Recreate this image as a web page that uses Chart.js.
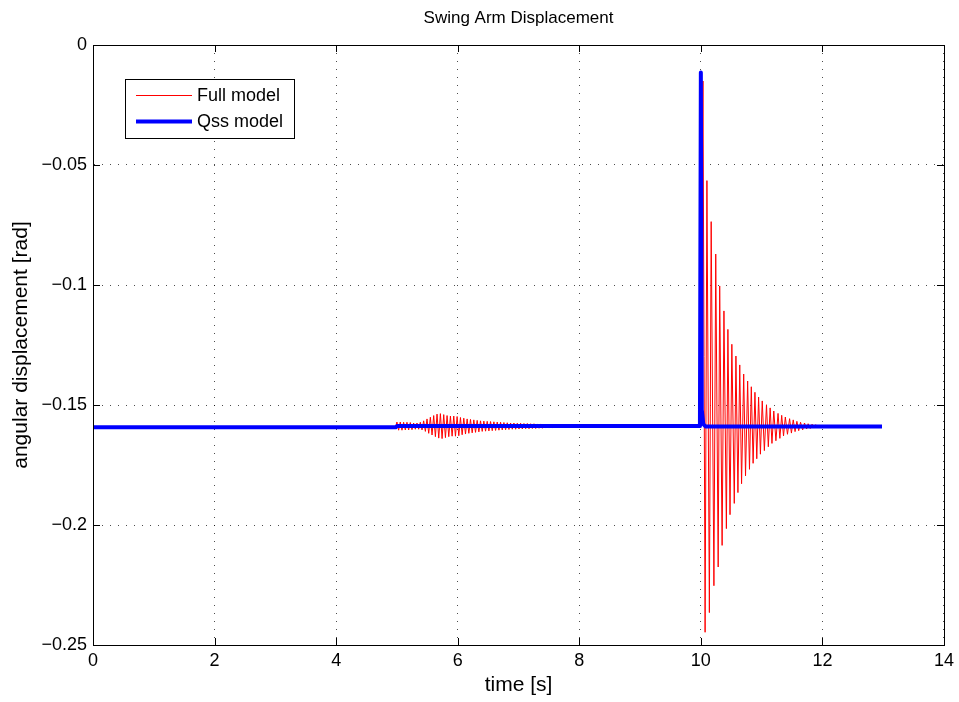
<!DOCTYPE html>
<html>
<head>
<meta charset="utf-8">
<title>Swing Arm Displacement</title>
<script src="https://cdn.jsdelivr.net/npm/chart.js@4/dist/chart.umd.min.js"></script>
<style>
  html, body { margin: 0; padding: 0; background: #fff; }
</style>
</head>
<body>
<canvas id="swingChart" width="959" height="702"></canvas>
<script>
// values (time in s, angle in rad)

// Full model: flat start, then the small oscillation after t = 5
const fullCalmTime = [
  0, 4.98,
  5.000, 5.028, 5.055, 5.083, 5.110, 5.138, 5.165, 5.193, 5.220, 5.248, 5.275, 5.303, 5.330, 5.358,
  5.385, 5.413, 5.440, 5.468, 5.495, 5.523, 5.550, 5.578, 5.605, 5.633, 5.660, 5.688, 5.715, 5.743,
  5.770, 5.798, 5.825, 5.853, 5.880, 5.908, 5.935, 5.963, 5.990, 6.018, 6.045, 6.073, 6.100, 6.128,
  6.155, 6.183, 6.210, 6.238, 6.265, 6.293, 6.320, 6.348, 6.375, 6.403, 6.430, 6.458, 6.485, 6.513,
  6.540, 6.568, 6.595, 6.623, 6.650, 6.678, 6.705, 6.733, 6.760, 6.788, 6.815, 6.843, 6.870, 6.898,
  6.925, 6.953, 6.980, 7.008, 7.035, 7.063, 7.090, 7.118, 7.145, 7.173, 7.200, 7.228, 7.255, 7.283,
  7.310, 7.338, 7.365, 7.393, 7.420, 7.448, 7.475, 7.503, 7.530, 7.558, 7.585, 7.613, 7.640, 7.668,
  7.695, 7.723, 7.750, 7.778, 7.805, 7.833, 7.860, 7.888, 7.915, 7.943, 7.970, 7.998, 8.025, 8.053,
  8.080, 8.108, 8.135, 8.163, 8.190, 8.218, 8.245, 8.273, 8.300, 8.328, 8.355, 8.383, 8.410, 8.438,
  8.465, 8.493, 8.520, 8.548,
  8.58, 9.99
];
const fullCalmAngle = [
  -0.1592, -0.1592,
  -0.1571, -0.1605, -0.1571, -0.1605, -0.1572, -0.1604, -0.1572, -0.1604, -0.1573, -0.1603, -0.1575, -0.1601, -0.1575, -0.1601,
  -0.1572, -0.1604, -0.1566, -0.1610, -0.1558, -0.1618, -0.1551, -0.1625, -0.1544, -0.1632, -0.1538, -0.1638, -0.1536, -0.1640,
  -0.1540, -0.1636, -0.1544, -0.1632, -0.1546, -0.1630, -0.1546, -0.1630, -0.1548, -0.1628, -0.1552, -0.1624, -0.1555, -0.1621,
  -0.1558, -0.1618, -0.1560, -0.1616, -0.1562, -0.1614, -0.1564, -0.1612, -0.1566, -0.1610, -0.1567, -0.1609, -0.1568, -0.1608,
  -0.1569, -0.1607, -0.1570, -0.1606, -0.1571, -0.1605, -0.1572, -0.1604, -0.1573, -0.1603, -0.1574, -0.1602, -0.1575, -0.1601,
  -0.1575, -0.1601, -0.1576, -0.1600, -0.1576, -0.1600, -0.1577, -0.1599, -0.1577, -0.1599, -0.1578, -0.1598, -0.1578, -0.1598,
  -0.1579, -0.1597, -0.1579, -0.1597, -0.1580, -0.1596, -0.1580, -0.1596, -0.1580, -0.1596, -0.1581, -0.1595, -0.1581, -0.1595,
  -0.1581, -0.1595, -0.1582, -0.1594, -0.1582, -0.1594, -0.1582, -0.1594, -0.1583, -0.1593, -0.1583, -0.1593, -0.1583, -0.1593,
  -0.1583, -0.1593, -0.1584, -0.1592, -0.1584, -0.1592, -0.1584, -0.1592, -0.1585, -0.1591, -0.1585, -0.1591, -0.1585, -0.1591,
  -0.1586, -0.1590, -0.1586, -0.1590,
  -0.1588, -0.1588
];

// Full model: the kick at t = 10 and its ring-down
const fullKickTime = [
  10.035, 10.07, 10.10, 10.14, 10.17, 10.215, 10.245, 10.285, 10.31, 10.35, 10.38, 10.42, 10.445, 10.48,
  10.51, 10.55, 10.577, 10.61, 10.64, 10.67, 10.705, 10.735, 10.77, 10.80, 10.83, 10.86, 10.89, 10.92,
  10.95, 10.98, 11.01, 11.045, 11.08, 11.11, 11.14, 11.17, 11.20, 11.235, 11.27, 11.30, 11.33, 11.36,
  11.39, 11.425, 11.46, 11.49, 11.52, 11.55, 11.58, 11.61, 11.64, 11.675, 11.705, 11.74, 11.765, 11.80,
  11.83, 11.86, 11.89, 11.925, 11.955, 11.99, 12.015, 12.05, 12.08, 12.115, 12.145, 12.18, 12.30, 12.98
];
const fullKickAngle = [
  -0.0150, -0.2447, -0.0565, -0.2365, -0.0736, -0.2253, -0.0871, -0.2175, -0.1004, -0.2085, -0.1108, -0.2015, -0.1185, -0.1957,
  -0.1247, -0.1910, -0.1296, -0.1865, -0.1333, -0.1828, -0.1371, -0.1795, -0.1400, -0.1768, -0.1424, -0.1743, -0.1447, -0.1724,
  -0.1467, -0.1705, -0.1483, -0.1690, -0.1499, -0.1674, -0.1512, -0.1660, -0.1525, -0.1649, -0.1535, -0.1639, -0.1543, -0.1629,
  -0.1550, -0.1622, -0.1557, -0.1617, -0.1562, -0.1611, -0.1568, -0.1607, -0.1572, -0.1604, -0.1575, -0.1600, -0.1578, -0.1598,
  -0.1580, -0.1596, -0.1582, -0.1594, -0.1584, -0.1593, -0.1585, -0.1592, -0.1586, -0.1591, -0.1587, -0.1590, -0.1589, -0.1589
];

// Qss model
const qssTime  = [0, 4.98, 5.00, 9.985, 10.00, 10.015, 10.04, 10.08, 12.98];
const qssAngle = [-0.1593, -0.1593, -0.1588, -0.1588, -0.0115, -0.1520, -0.1580, -0.1590, -0.1590];

const seriesNames = ['Full model', 'Qss model'];
const xTicks = [0, 2, 4, 6, 8, 10, 12, 14];
const yTicks = [0, -0.05, -0.1, -0.15, -0.2, -0.25];

const FONT = '"Liberation Sans", Arial, Helvetica, sans-serif';

function toPoints(ts, vs) {
  return ts.map((t, i) => ({ x: t, y: vs[i] }));
}
const fullPoints = toPoints(fullCalmTime.concat(fullKickTime), fullCalmAngle.concat(fullKickAngle));
const qssPoints = toPoints(qssTime, qssAngle);

function minusSign(v) {
  const s = String(Number(v.toFixed(3)));
  return s.replace('-', '\u2212');
}

// matlab style frame, inward ticks, title and legend box
const matlabDecor = {
  id: 'matlabDecor',
  afterDraw(chart) {
    const ctx = chart.ctx;
    const a = chart.chartArea;
    const xs = chart.scales.x, ys = chart.scales.y;
    ctx.save();
    ctx.strokeStyle = '#000';
    ctx.lineWidth = 1;
    ctx.beginPath();
    xTicks.forEach(t => {
      const px = Math.round(xs.getPixelForValue(t)) + 0.5;
      ctx.moveTo(px, a.bottom); ctx.lineTo(px, a.bottom - 7);
      ctx.moveTo(px, a.top); ctx.lineTo(px, a.top + 7);
    });
    yTicks.forEach(t => {
      const py = Math.round(ys.getPixelForValue(t)) + 0.5;
      ctx.moveTo(a.left, py); ctx.lineTo(a.left + 7, py);
      ctx.moveTo(a.right, py); ctx.lineTo(a.right - 7, py);
    });
    ctx.stroke();
    ctx.strokeRect(Math.round(a.left) + 0.5, Math.round(a.top) + 0.5,
      Math.round(a.right - a.left), Math.round(a.bottom - a.top));

    // title
    ctx.fillStyle = '#000';
    ctx.font = '17px ' + FONT;
    ctx.textAlign = 'center';
    ctx.textBaseline = 'middle';
    ctx.fillText('Swing Arm Displacement', (a.left + a.right) / 2, 18);

    // legend
    const bx = 125.5, by = 79.5, bw = 169, bh = 59;
    ctx.fillStyle = '#fff';
    ctx.fillRect(bx, by, bw, bh);
    ctx.strokeRect(bx, by, bw, bh);
    ctx.font = '18px ' + FONT;
    const ds = chart.data.datasets;
    const rows = [95, 121];
    ds.forEach((d, i) => {
      ctx.strokeStyle = d.borderColor;
      ctx.lineWidth = d.borderWidth;
      ctx.beginPath();
      ctx.moveTo(136, rows[i] + 0.5);
      ctx.lineTo(192, rows[i] + 0.5);
      ctx.stroke();
      ctx.fillStyle = '#000';
      ctx.textAlign = 'left';
      ctx.fillText(d.label, 197, rows[i] + 1);
    });
    ctx.restore();
  }
};

const swingChart = new Chart(document.getElementById('swingChart'), {
  type: 'line',
  data: {
    datasets: [
      {
        label: seriesNames[0],
        data: fullPoints,
        borderColor: '#ff0000',
        borderWidth: 1,
        borderJoinStyle: 'round',
        pointRadius: 0,
        tension: 0,
        order: 1
      },
      {
        label: seriesNames[1],
        data: qssPoints,
        borderColor: '#0000ff',
        borderWidth: 4,
        borderJoinStyle: 'round',
        pointRadius: 0,
        tension: 0,
        order: 0
      }
    ]
  },
  options: {
    responsive: false,
    animation: false,
    devicePixelRatio: 1,
    layout: { padding: { top: 45, right: 14, left: 0, bottom: 0 } },
    plugins: {
      legend: { display: false },
      tooltip: { enabled: false },
      title: { display: false }
    },
    scales: {
      x: {
        type: 'linear',
        min: 0,
        max: 14,
        afterBuildTicks: s => { s.ticks = xTicks.map(v => ({ value: v })); },
        afterFit: s => { s.height = 57; },
        ticks: { color: '#000', font: { family: FONT, size: 18 }, padding: 5, maxRotation: 0, autoSkip: false },
        grid: { color: 'rgba(0,0,0,0.7)', drawTicks: false, lineWidth: 1 },
        border: { color: '#000', dash: [1, 7] },
        title: { display: true, text: 'time [s]', color: '#000', font: { family: FONT, size: 21 }, padding: { top: 0, bottom: 4 } }
      },
      y: {
        type: 'linear',
        min: -0.25,
        max: 0,
        afterBuildTicks: s => { s.ticks = yTicks.map(v => ({ value: v })); },
        afterFit: s => { s.width = 93; },
        ticks: { color: '#000', font: { family: FONT, size: 18 }, padding: 6, callback: v => minusSign(v) },
        grid: { color: 'rgba(0,0,0,0.7)', drawTicks: false, lineWidth: 1 },
        border: { color: '#000', dash: [1, 7] },
        title: { display: true, text: 'angular displacement [rad]', color: '#000', font: { family: FONT, size: 21 }, padding: { top: 9, bottom: 0 } }
      }
    }
  },
  plugins: [matlabDecor]
});
</script>
</body>
</html>
